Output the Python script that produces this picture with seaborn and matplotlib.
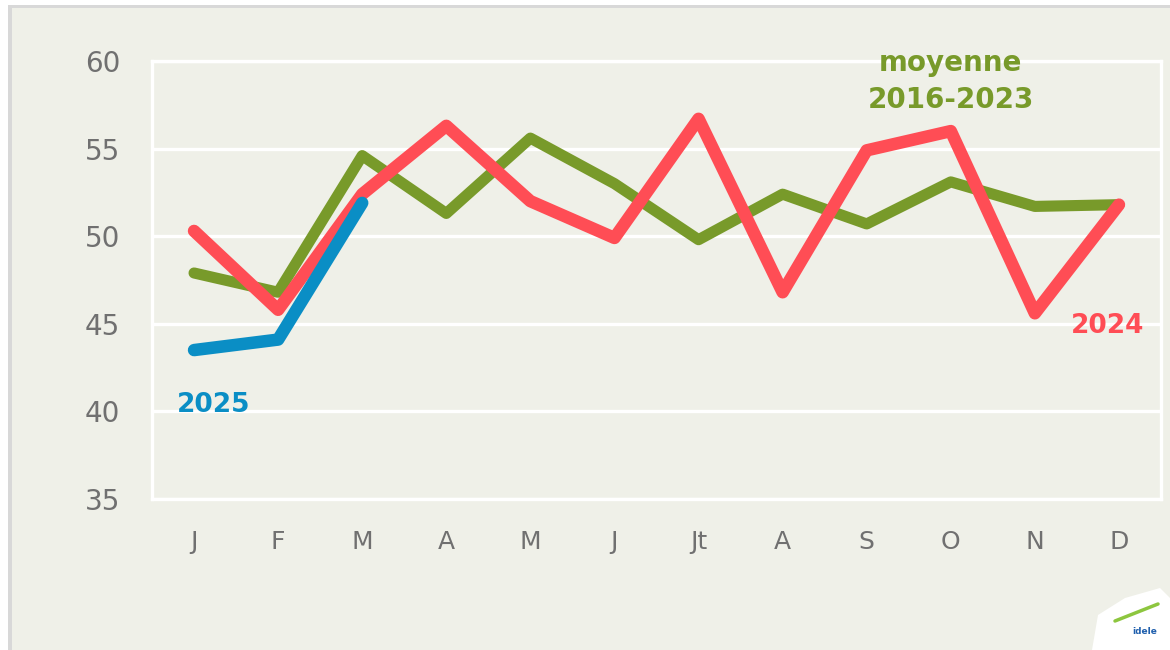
import numpy as np
import pandas as pd
import matplotlib
matplotlib.use("Agg")
import matplotlib.pyplot as plt
import seaborn as sns
from matplotlib.patches import Polygon, Rectangle

# ---- data ----
months = ["J", "F", "M", "A", "M", "J", "Jt", "A", "S", "O", "N", "D"]
moyenne_2016_2023 = [47.9, 46.8, 54.6, 51.3, 55.6, 53.0, 49.8, 52.4, 50.7, 53.1, 51.7, 51.8]
annee_2024 = [50.3, 45.8, 52.4, 56.3, 52.0, 49.9, 56.7, 46.8, 54.9, 56.0, 45.6, 51.8]
annee_2025 = [43.5, 44.1, 51.9]
y_ticks = [35, 40, 45, 50, 55, 60]

BG = "#EFF0E8"
GREEN = "#789A2A"
RED = "#FF4D55"
BLUE = "#0A8EC5"
TICK = "#707070"

sns.set_theme(style="white")
plt.rcParams["font.family"] = ["DejaVu Sans"]

rows = []
for i, m in enumerate(months):
    rows.append({"pos": i, "mois": m, "serie": "moyenne", "valeur": moyenne_2016_2023[i]})
    rows.append({"pos": i, "mois": m, "serie": "2024", "valeur": annee_2024[i]})
for i, v in enumerate(annee_2025):
    rows.append({"pos": i, "mois": months[i], "serie": "2025", "valeur": v})
df = pd.DataFrame(rows)

fig = plt.figure(figsize=(11.7, 6.5), dpi=100)
fig.patch.set_facecolor(BG)

# outer frame: white strip at top, grey borders
fig.patches.append(Rectangle((0, 1 - 5 / 650), 1, 5 / 650, transform=fig.transFigure,
                             facecolor="white", edgecolor="none", zorder=0))
fig.patches.append(Rectangle((0, 1 - 8 / 650), 1, 3 / 650, transform=fig.transFigure,
                             facecolor="#D8D8D8", edgecolor="none", zorder=0))
fig.patches.append(Rectangle((0, 0), 8 / 1170, 1, transform=fig.transFigure,
                             facecolor="white", edgecolor="none", zorder=0))
fig.patches.append(Rectangle((8 / 1170, 0), 4 / 1170, 1 - 5 / 650, transform=fig.transFigure,
                             facecolor="#D8D8D8", edgecolor="none", zorder=0))

ax = fig.add_axes([152 / 1170, 1 - 499 / 650, (1161 - 152) / 1170, (499 - 61) / 650])
ax.set_facecolor(BG)

styles = [("moyenne", GREEN, 8.0), ("2024", RED, 9.0), ("2025", BLUE, 9.0)]
for name, col, lw in styles:
    sub = df[df["serie"] == name]
    sns.lineplot(data=sub, x="pos", y="valeur", ax=ax, color=col, linewidth=lw,
                 sort=False, legend=False, estimator=None,
                 solid_capstyle="round", solid_joinstyle="round", zorder=3)

ax.set_xlim(-0.5, 11.5)
ax.set_ylim(35, 60)
ax.set_yticks(y_ticks)
ax.set_yticklabels([str(t) for t in y_ticks], fontsize=20, color=TICK)
ax.set_xticks(range(len(months)))
ax.set_xticklabels(months, fontsize=18, color=TICK)
ax.tick_params(axis="y", length=0, pad=23)
ax.tick_params(axis="x", length=0, pad=22)
ax.set_xlabel("")
ax.set_ylabel("")
ax.grid(axis="y", color="white", linewidth=2.4)
ax.grid(axis="x", visible=False)
for s in ax.spines.values():
    s.set_color("white")
    s.set_linewidth(2.4)
    s.set_visible(True)

# direct labels
ax.text(9.0, 59.9, "moyenne", color=GREEN, fontsize=20, fontweight="bold",
        ha="center", va="center", zorder=5)
ax.text(9.0, 57.75, "2016-2023", color=GREEN, fontsize=20, fontweight="bold",
        ha="center", va="center", zorder=5)
ax.text(10.87, 44.85, "2024", color=RED, fontsize=19, fontweight="bold",
        ha="center", va="center", zorder=5)
ax.text(0.23, 40.35, "2025", color=BLUE, fontsize=19, fontweight="bold",
        ha="center", va="center", zorder=5)

# logo (approximate)
logo = Polygon([[1092 / 1170, 0], [1098 / 1170, 1 - 615 / 650],
                [1125 / 1170, 1 - 598 / 650], [1160 / 1170, 1 - 588 / 650],
                [1170 / 1170, 1 - 598 / 650], [1170 / 1170, 0]],
               closed=True, transform=fig.transFigure,
               facecolor="white", edgecolor="none", zorder=1)
fig.patches.append(logo)
fig.text(1145 / 1170, 1 - 631 / 650, "idele", color="#1F5FAD", fontsize=6.5,
         fontweight="bold", ha="center", va="center")
fig.lines.append(plt.Line2D([1115 / 1170, 1158 / 1170], [1 - 621 / 650, 1 - 604 / 650],
                            transform=fig.transFigure, color="#8DC63F", linewidth=2.5))

fig.savefig("out.png", dpi=100, facecolor=fig.get_facecolor())
